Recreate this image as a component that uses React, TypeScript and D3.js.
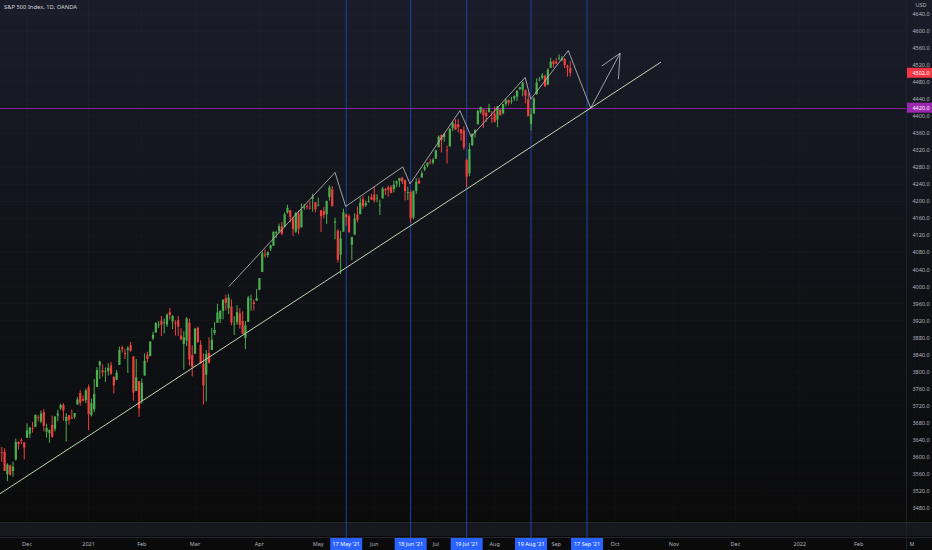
import * as d3 from "d3"

// first bar of the data and the exchange holidays inside it
const startDate = "2020-11-16"
const holidays = ["2020-11-26", "2020-12-25", "2021-01-01", "2021-01-18", "2021-02-15", "2021-04-02", "2021-05-31", "2021-07-05", "2021-09-06"]

// daily OHLC, Nov 16 2020 -> Sep 9 2021 (one line per month)
const opens = [
  3600, 3611, 3612, 3559, 3580, 3567, 3594, 3635, 3639, 3634,
  3645, 3654, 3668, 3670, 3694, 3683, 3705, 3659, 3656, 3675, 3666, 3697, 3714, 3722, 3684, 3698, 3693, 3694, 3723, 3750, 3736, 3733,
  3764, 3698, 3712, 3764, 3815, 3803, 3801, 3802, 3815, 3788, 3781, 3816, 3857, 3844, 3851, 3862, 3836, 3755, 3778,
  3732, 3791, 3840, 3837, 3878, 3892, 3910, 3920, 3916, 3911, 3940, 3918, 3915, 3921, 3885, 3865, 3873, 3915, 3839,
  3842, 3903, 3863, 3818, 3793, 3844, 3851, 3891, 3915, 3924, 3943, 3973, 3949, 3953, 3913, 3916, 3937, 3919, 3879, 3917, 3969, 3963, 3967,
  3992, 4034, 4075, 4074, 4089, 4096, 4125, 4130, 4141, 4140, 4174, 4179, 4160, 4129, 4171, 4139, 4185, 4189, 4185, 4206, 4198,
  4191, 4179, 4177, 4170, 4210, 4228, 4150, 4131, 4075, 4129, 4169, 4165, 4098, 4122, 4169, 4170, 4205, 4191, 4201, 4210,
  4216, 4207, 4191, 4207, 4229, 4233, 4233, 4229, 4242, 4248, 4255, 4249, 4220, 4222, 4162, 4224, 4249, 4256, 4275, 4284, 4293, 4291,
  4300, 4327, 4356, 4351, 4321, 4329, 4372, 4381, 4381, 4369, 4367, 4297, 4266, 4332, 4361, 4381, 4409, 4416, 4408, 4410, 4396,
  4406, 4392, 4415, 4407, 4429, 4438, 4435, 4442, 4446, 4464, 4462, 4462, 4440, 4382, 4406, 4451, 4484, 4490, 4494, 4474, 4514, 4529,
  4528, 4535, 4532, 4535, 4518, 4513,
]
const highs = [
  3628, 3623, 3620, 3585, 3582, 3589, 3643, 3637, 3644, 3634,
  3679, 3670, 3682, 3699, 3698, 3709, 3712, 3678, 3665, 3697, 3695, 3711, 3725, 3726, 3703, 3698, 3711, 3703, 3740, 3757, 3744, 3760,
  3770, 3737, 3783, 3811, 3826, 3817, 3810, 3820, 3823, 3789, 3804, 3859, 3861, 3853, 3860, 3870, 3836, 3830, 3778,
  3784, 3843, 3847, 3872, 3894, 3915, 3919, 3931, 3925, 3937, 3950, 3933, 3921, 3931, 3902, 3895, 3928, 3925, 3862,
  3903, 3906, 3874, 3843, 3851, 3881, 3903, 3917, 3960, 3944, 3970, 3981, 3983, 3970, 3930, 3956, 3949, 3942, 3919, 3978, 3981, 3969, 3994,
  4020, 4083, 4087, 4083, 4098, 4129, 4131, 4148, 4152, 4174, 4192, 4180, 4164, 4175, 4179, 4195, 4194, 4193, 4201, 4218, 4198,
  4209, 4179, 4187, 4202, 4238, 4236, 4162, 4135, 4131, 4183, 4171, 4170, 4117, 4172, 4188, 4209, 4213, 4202, 4213, 4218,
  4234, 4217, 4204, 4234, 4232, 4237, 4238, 4249, 4249, 4255, 4258, 4251, 4234, 4226, 4226, 4255, 4256, 4272, 4286, 4292, 4300, 4302,
  4321, 4355, 4357, 4361, 4331, 4372, 4387, 4393, 4393, 4370, 4376, 4301, 4337, 4359, 4369, 4415, 4422, 4416, 4415, 4429, 4412,
  4422, 4424, 4417, 4429, 4441, 4439, 4445, 4449, 4461, 4468, 4480, 4462, 4455, 4418, 4444, 4489, 4492, 4501, 4498, 4513, 4537, 4531,
  4537, 4545, 4541, 4536, 4521, 4529,
]
const lows = [
  3600, 3588, 3567, 3543, 3556, 3553, 3591, 3617, 3630, 3594,
  3645, 3644, 3657, 3670, 3683, 3679, 3660, 3645, 3633, 3645, 3660, 3684, 3710, 3685, 3636, 3676, 3689, 3690, 3723, 3720, 3730, 3726,
  3663, 3695, 3705, 3764, 3783, 3789, 3776, 3791, 3792, 3749, 3780, 3816, 3845, 3830, 3797, 3847, 3732, 3755, 3694,
  3725, 3791, 3822, 3836, 3874, 3892, 3903, 3884, 3890, 3905, 3923, 3900, 3885, 3884, 3874, 3805, 3860, 3814, 3789,
  3842, 3868, 3818, 3723, 3730, 3819, 3851, 3886, 3915, 3915, 3923, 3944, 3935, 3909, 3886, 3910, 3901, 3889, 3853, 3917, 3943, 3944, 3966,
  3992, 4034, 4068, 4068, 4083, 4095, 4114, 4125, 4121, 4140, 4171, 4151, 4119, 4126, 4123, 4139, 4180, 4181, 4181, 4176, 4174,
  4188, 4128, 4160, 4147, 4202, 4188, 4111, 4056, 4029, 4129, 4143, 4125, 4062, 4122, 4151, 4170, 4183, 4187, 4197, 4203,
  4197, 4198, 4168, 4207, 4215, 4211, 4219, 4221, 4233, 4234, 4241, 4202, 4203, 4150, 4158, 4217, 4241, 4256, 4271, 4280, 4287, 4287,
  4300, 4327, 4315, 4340, 4289, 4329, 4365, 4368, 4362, 4343, 4321, 4233, 4259, 4330, 4350, 4381, 4406, 4372, 4387, 4408, 4385,
  4385, 4374, 4401, 4404, 4423, 4425, 4429, 4436, 4436, 4461, 4447, 4430, 4400, 4367, 4406, 4451, 4482, 4486, 4469, 4473, 4513, 4514,
  4522, 4531, 4529, 4513, 4493, 4493,
]
const closes = [
  3627, 3610, 3567, 3582, 3558, 3577, 3635, 3630, 3638, 3622,
  3662, 3669, 3666, 3699, 3692, 3702, 3673, 3668, 3663, 3647, 3695, 3702, 3722, 3709, 3694, 3687, 3690, 3703, 3735, 3727, 3732, 3756,
  3700, 3726, 3748, 3804, 3824, 3799, 3801, 3809, 3795, 3768, 3798, 3851, 3853, 3841, 3855, 3849, 3751, 3787, 3714,
  3774, 3826, 3830, 3871, 3887, 3915, 3911, 3910, 3916, 3934, 3933, 3931, 3913, 3906, 3876, 3881, 3925, 3829, 3811,
  3901, 3870, 3820, 3768, 3842, 3821, 3875, 3898, 3939, 3943, 3969, 3962, 3974, 3915, 3913, 3940, 3910, 3889, 3909, 3974, 3971, 3959, 3973,
  4020, 4078, 4074, 4080, 4097, 4129, 4128, 4142, 4124, 4170, 4185, 4163, 4135, 4173, 4135, 4180, 4187, 4187, 4183, 4211, 4181,
  4192, 4165, 4168, 4201, 4233, 4189, 4153, 4063, 4113, 4174, 4163, 4128, 4116, 4160, 4156, 4197, 4189, 4196, 4201, 4204,
  4202, 4208, 4192, 4230, 4226, 4227, 4220, 4239, 4247, 4255, 4247, 4224, 4222, 4160, 4224, 4246, 4242, 4266, 4281, 4291, 4292, 4298,
  4320, 4352, 4344, 4358, 4320, 4370, 4385, 4369, 4374, 4360, 4327, 4258, 4323, 4359, 4368, 4412, 4422, 4402, 4400, 4419, 4395,
  4387, 4423, 4403, 4429, 4437, 4432, 4436, 4447, 4460, 4468, 4479, 4448, 4400, 4405, 4442, 4479, 4486, 4496, 4470, 4509, 4528, 4523,
  4524, 4537, 4535, 4520, 4514, 4502,
]

const priceTicks = [4640, 4600, 4560, 4520, 4480, 4440, 4400, 4360, 4320, 4280, 4240, 4200, 4160, 4120, 4080, 4040, 4000, 3960, 3920, 3880, 3840, 3800, 3760, 3720, 3680, 3640, 3600, 3560, 3520, 3480]

// drawings: vertical date lines, horizontal level, trend line, zigzag (bar number from first bar, price)
const markerDates = ["2021-05-17", "2021-06-18", "2021-07-19", "2021-08-19", "2021-09-17"]
const levelPrice = 4420
const lastPrice = 4502
const trendLine: [number, number][] = [[0, 3512], [236.4, 4527]]
const zigzag: [number, number][] = [
  [82.1, 4000], [120.0, 4268], [123.8, 4188], [144.2, 4281], [146.8, 4241], [164.6, 4413],
  [168.6, 4352], [187.9, 4491], [189.9, 4440], [203.3, 4554], [211.3, 4419], [221.8, 4548],
]
const arrowHead: [number, number][] = [[215.3, 4518], [221.8, 4548], [221.2, 4487]]

const W = 932
const H = 550
const plotRight = 906
const plotBottom = 521
const font = "'Noto Sans', 'DejaVu Sans', sans-serif"
const up = "#4caf50"
const down = "#f0413e"

const parseDay = d3.utcParse("%Y-%m-%d")
const fmtDay = d3.utcFormat("%Y-%m-%d")

function buildCalendar(count: number) {
  const out: Date[] = []
  let d = parseDay(startDate) as Date
  while (out.length < count) {
    const wd = d.getUTCDay()
    if (wd !== 0 && wd !== 6 && !holidays.includes(fmtDay(d))) out.push(d)
    d = d3.utcDay.offset(d, 1)
  }
  return out
}

export default function App() {
  const calendar = buildCalendar(340)

  const x = d3.scaleLinear().domain([0.357, 323.9]).range([0, plotRight])
  const y = d3.scaleLinear().domain([3480, 4640]).range([508, 14])

  const bars = closes.map((c, i) => ({ i, o: opens[i], h: highs[i], l: lows[i], c }))

  // month ticks: first trading day of each month
  const monthTicks: { i: number; label: string }[] = []
  for (let i = 1; i < calendar.length; i++) {
    if (calendar[i].getUTCMonth() !== calendar[i - 1].getUTCMonth()) {
      const d = calendar[i]
      monthTicks.push({ i, label: d.getUTCMonth() === 0 ? d3.utcFormat("%Y")(d) : d3.utcFormat("%b")(d) })
    }
  }

  const markers = markerDates.map((s) => {
    const i = calendar.findIndex((d) => fmtDay(d) === s)
    return { i, label: d3.utcFormat("%-d %b '%y")(parseDay(s) as Date) }
  })

  const line = d3
    .line<[number, number]>()
    .x((d) => x(d[0]))
    .y((d) => y(d[1]))

  const bodyW = 2.2

  return (
    <div style={{ position: "absolute", left: 0, top: 0, width: W, height: H }}>
      <svg width={W} height={H} style={{ display: "block" }}>
        <defs>
          <linearGradient id="bg" x1="0" y1="0" x2="0" y2="1">
            <stop offset="0" stopColor="#1a1d29" />
            <stop offset="0.5" stopColor="#101217" />
            <stop offset="1" stopColor="#0a0a0a" />
          </linearGradient>
          <clipPath id="plot">
            <rect x={0} y={0} width={plotRight} height={plotBottom} />
          </clipPath>
          <clipPath id="timeclip">
            <rect x={0} y={plotBottom} width={plotRight + 8} height={H - plotBottom} />
          </clipPath>
        </defs>
        <rect x={0} y={0} width={W} height={H} fill="url(#bg)" />

        {/* faint grid */}
        <g stroke="#ffffff" strokeOpacity={0.025}>
          {monthTicks.map((t) => (
            <line key={"vg" + t.i} x1={x(t.i)} x2={x(t.i)} y1={0} y2={plotBottom} />
          ))}
          {priceTicks.map((p) => (
            <line key={"hg" + p} x1={0} x2={plotRight} y1={y(p)} y2={y(p)} />
          ))}
        </g>

        {/* bottom strip */}
        <rect x={0} y={plotBottom + 2} width={W} height={13} fill="#16181e" />
        <rect x={0} y={plotBottom + 1} width={W} height={1} fill="#23262e" />
        <rect x={0} y={537} width={W} height={1} fill="#23262e" />

        {/* date markers */}
        {markers.map((m) => (
          <path key={"m" + m.i} d={`M${x(m.i)},0V538`} stroke="#2142a6" strokeWidth={1} fill="none" />
        ))}

        <g clipPath="url(#plot)">
          {/* level */}
          <rect x={0} y={Math.round(y(levelPrice))} width={plotRight} height={1} fill="#9c27b0" fillOpacity={0.8} />

          {/* candles */}
          {bars.map((b) => {
            const cx = x(b.i)
            const col = b.c >= b.o ? up : down
            const top = y(Math.max(b.o, b.c))
            const bot = y(Math.min(b.o, b.c))
            return (
              <g key={b.i}>
                <rect x={cx - 0.5} y={y(b.h)} width={1} height={y(b.l) - y(b.h)} fill={col} />
                <rect x={cx - bodyW / 2} y={top} width={bodyW} height={Math.max(0.8, bot - top)} fill={col} />
              </g>
            )
          })}

          {/* trend line */}
          <path d={line(trendLine) as string} fill="none" stroke="#bcd6b4" strokeWidth={1} />
          {/* zigzag projection */}
          <path d={line(zigzag) as string} fill="none" stroke="#c4c4c4" strokeWidth={0.8} />
          <path d={line(arrowHead) as string} fill="none" stroke="#c4c4c4" strokeWidth={0.8} />
        </g>

        {/* price axis */}
        <rect x={plotRight} y={0} width={1} height={H} fill="#1e2129" />
        <text x={921} y={7} fill="#b2b5be" fontSize={5.5} fontFamily={font} textAnchor="middle">USD</text>
        <g fill="#b2b5be" fontSize={5.5} fontFamily={font} textAnchor="middle">
          {priceTicks.map((p) => (
            <text key={"pt" + p} x={921} y={y(p) + 2}>{p.toFixed(1)}</text>
          ))}
        </g>
        <rect x={plotRight + 1} y={y(lastPrice) - 5} width={W - plotRight - 1} height={10} fill="#f23645" />
        <text x={921} y={y(lastPrice) + 2} fill="#ffffff" fontSize={5.5} fontFamily={font} textAnchor="middle">{lastPrice.toFixed(1)}</text>
        <rect x={plotRight + 1} y={y(levelPrice) - 5} width={W - plotRight - 1} height={10} fill="#9c27b0" />
        <text x={921} y={y(levelPrice) + 2} fill="#ffffff" fontSize={5.5} fontFamily={font} textAnchor="middle">{levelPrice.toFixed(1)}</text>

        {/* time axis */}
        <g fill="#b2b5be" fontSize={5.5} fontFamily={font} textAnchor="middle" clipPath="url(#timeclip)">
          {monthTicks.map((t) => (
            <text key={"mt" + t.i} x={x(t.i)} y={546}>{t.label}</text>
          ))}
        </g>
        {markers.map((m) => (
          <g key={"pill" + m.i}>
            <rect x={x(m.i) - 16} y={538} width={32} height={12} fill="#2962ff" />
            <text x={x(m.i)} y={546} fill="#ffffff" fontSize={5.5} fontFamily={font} textAnchor="middle">{m.label}</text>
          </g>
        ))}

        {/* title */}
        <text x={4} y={9} fill="#d1d4dc" fontSize={5.8} fontFamily={font}>S&amp;P 500 Index, 1D, OANDA</text>
      </svg>
    </div>
  )
}
